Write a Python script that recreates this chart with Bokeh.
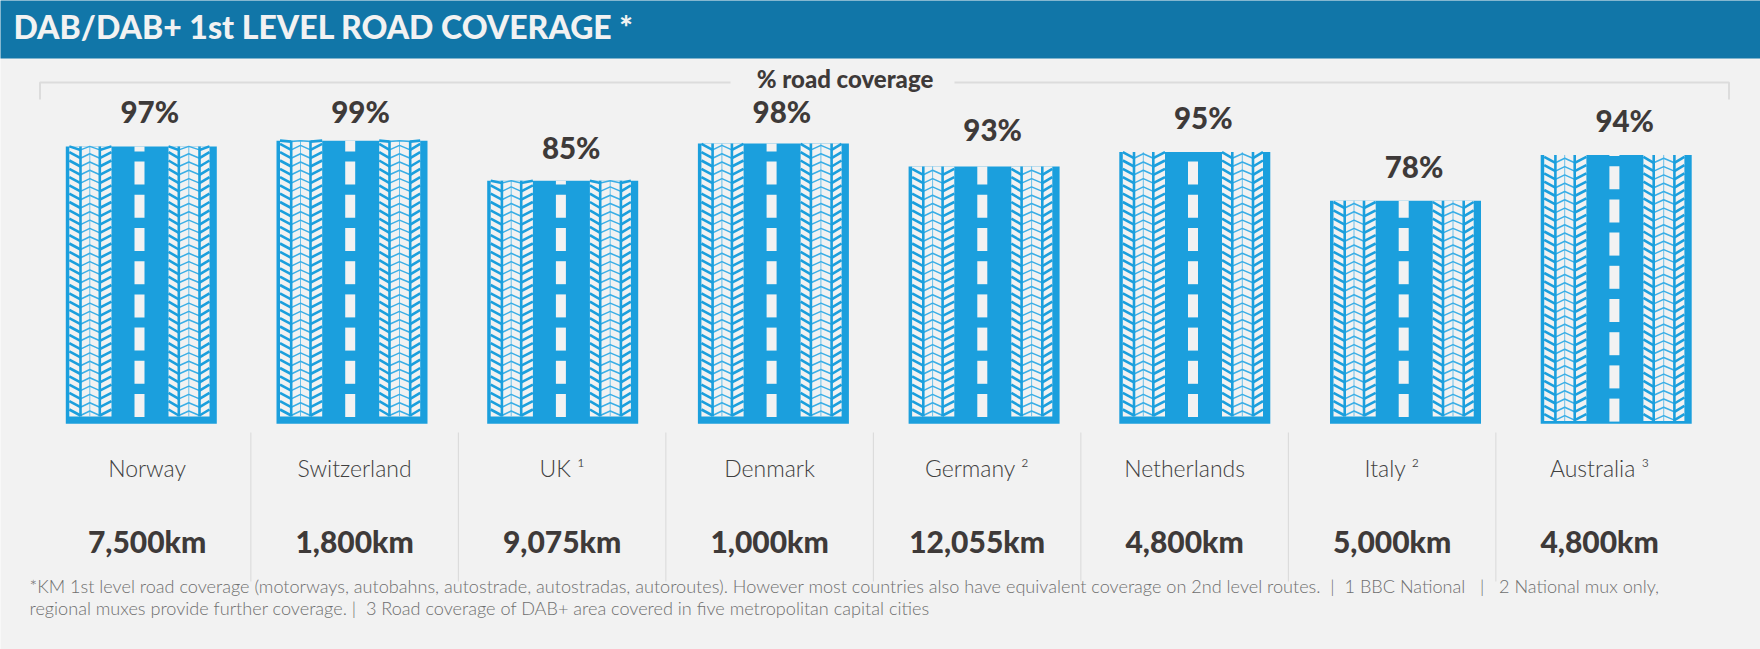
# DAB/DAB+ road coverage by country, drawn as road shaped bars
from bokeh.core.properties import value
from bokeh.embed import file_html
from bokeh.models import Range1d
from bokeh.plotting import figure
from bokeh.resources import INLINE

countries = ["Norway", "Switzerland", "UK ¹", "Denmark", "Germany ²", "Netherlands", "Italy ²", "Australia ³"]
coverage_labels = ["97%", "99%", "85%", "98%", "93%", "95%", "78%", "94%"]
# bar heights as drawn: the German bar is shorter than its 93% label
bar_values = [97, 99, 85, 98, 90, 95, 78, 94]
road_km = ["7,500km", "1,800km", "9,075km", "1,000km", "12,055km", "4,800km", "5,000km", "4,800km"]

title = "DAB/DAB+ 1st LEVEL ROAD COVERAGE *"
bracket_title = "% road coverage"
NB = "\u00a0"
footnote_1 = ("*KM 1st level road coverage (motorways, autobahns, autostrade, autostradas, autoroutes). "
              f"However most countries also have equivalent coverage on 2nd level routes.{NB}{NB}|{NB}{NB}1 BBC National"
              f"{NB}{NB}{NB}|{NB}{NB}{NB}2 National mux only,")
footnote_2 = (f"regional muxes provide further coverage.{NB}|{NB}{NB}3 Road coverage of DAB+ area covered "
              "in five metropolitan capital cities")

# layout, in page pixels
W, H = 1760, 649
BAR_STEP, BAR_X0 = 210.7, 140.8
CELL_STEP, CELL_X0 = 207.5, 146.6
PX_PER_PCT, BASE_Y = 2.86, 423.3
pct_baselines = [111, 111, 147, 111, 129, 117, 166, 120]
icon_shift = [0, 0, 0, 0, 0, 0, 0, 4.6]

BG = "#f2f2f2"
BLUE = "#1b9fdd"
HEADER = "#1176a8"
DARK = "#3e3a39"
RULE = "#dcdcdc"
HEAVY = "Lato Black"


def xp(px):
    return (px - BAR_X0) / BAR_STEP


def yp(py):
    return (BASE_Y - py) / PX_PER_PCT


def label(x, y, text, font, size, color, align="left", style="normal", **kw):
    p.text(x=x, y=y, text=text, text_font=value(font), text_font_size=size, text_color=color,
           text_font_style=style, text_align=align, text_baseline="alphabetic", **kw)


p = figure(width=W, height=H, output_backend="svg", toolbar_location=None,
           x_axis_type=None, y_axis_type=None, min_border=0,
           x_range=Range1d(xp(0), xp(W)), y_range=Range1d(yp(H), yp(0)),
           background_fill_color=BG, border_fill_color=BG, outline_line_color=None)
p.extra_x_ranges = {"cells": Range1d((0 - CELL_X0) / CELL_STEP, (W - CELL_X0) / CELL_STEP)}

# header band
p.quad(left=[xp(-3)], right=[xp(W + 3)], top=[yp(-3)], bottom=[yp(58)], fill_color=HEADER, line_color=None)
label([xp(13)], [yp(26)], [title], HEAVY, "32px", BG, style="bold")

# bracket above the bars
p.multi_line(xs=[[xp(39.5), xp(39.5), xp(730)], [xp(954), xp(1728.5), xp(1728.5)]],
             ys=[[yp(99), yp(82), yp(82)], [yp(82), yp(82), yp(99)]], line_color=RULE, line_width=2)
label([xp(844.5)], [yp(78)], [bracket_title], HEAVY, "24px", DARK, align="center", style="bold")

idx = list(range(len(countries)))
p.vbar(x=idx, top=bar_values, bottom=0, width=151 / BAR_STEP, fill_color=BLUE, line_color=None)

# tread and lane marks of each road
tread_l, tread_r, tread_t, tread_b = [], [], [], []
thick_x, thick_y, thin_x, thin_y = [], [], [], []
outer_x, outer_y, inner_x, inner_y = [], [], [], []
dash_l, dash_r, dash_t, dash_b = [], [], [], []
for i, v in enumerate(bar_values):
    left = BAR_X0 + BAR_STEP * i - 75.5
    top = BASE_Y - v * PX_PER_PCT
    tread_bottom = 416 + icon_shift[i]
    for a, b, lines in ((3.5, 45.7, (14.7, 24, 34)), (102.7, 143.7, (113, 123, 133.7))):
        tread_l.append(xp(left + a))
        tread_r.append(xp(left + b))
        tread_t.append(v)
        tread_b.append(yp(tread_bottom))
        for lx in (lines[0], lines[2]):
            thick_x.append([xp(left + lx)] * 2)
            thick_y.append([v, yp(tread_bottom)])
        thin_x.append([xp(left + lines[1])] * 2)
        thin_y.append([v, yp(tread_bottom)])
        y = tread_bottom - 3.5
        while y > top - 2:
            for end, mid in ((a, lines[0]), (b, lines[2])):
                outer_x.append([xp(left + end), xp(left + mid)])
                outer_y.append([yp(max(y - 3.5, top)), yp(max(y + 2.5, top))])
            inner_x.append([xp(left + q) for q in lines])
            inner_y.append([yp(max(y + 2.5, top)), yp(max(y - 2, top)), yp(max(y + 2.5, top))])
            y -= 8.3
    k = 0
    while True:
        d_bot = 416.5 + icon_shift[i] - 33.2 * k
        if d_bot <= top:
            break
        dash_l.append(xp(left + 68.7))
        dash_r.append(xp(left + 78.7))
        dash_b.append(yp(d_bot))
        dash_t.append(yp(max(d_bot - 23, top)))
        k += 1

p.quad(left=tread_l, right=tread_r, top=tread_t, bottom=tread_b, fill_color=BG, line_color=None)
p.multi_line(xs=thin_x, ys=thin_y, line_color="#6cc0ea", line_width=1)
p.multi_line(xs=inner_x, ys=inner_y, line_color="#3aaee6", line_width=1.5)
p.multi_line(xs=outer_x, ys=outer_y, line_color=BLUE, line_width=2.6)
p.multi_line(xs=thick_x, ys=thick_y, line_color=BLUE, line_width=2.6)
p.quad(left=dash_l, right=dash_r, top=dash_t, bottom=dash_b, fill_color=BG, line_color=None)

# percentage over each road
label(idx, [yp(b) for b in pct_baselines], coverage_labels, HEAVY, "29.5px", DARK, align="center",
      style="bold", x_offset=8.5)

# separators, country names and km rows sit on their own slightly narrower grid
p.segment(x0=[i + 0.5 for i in idx[:-1]], x1=[i + 0.5 for i in idx[:-1]],
          y0=[yp(432)] * 7, y1=[yp(581)] * 7, x_range_name="cells", line_color="#d9d9d9", line_width=1)
label(idx, [yp(467.5)] * 8, countries, "Lato Light", "23px", "#404040", align="center", x_range_name="cells")
label(idx, [yp(540)] * 8, road_km, HEAVY, "30px", DARK, align="center", style="bold", x_range_name="cells")

# footnotes
label([xp(29)] * 2, [yp(585.5), yp(607.5)], [footnote_1, footnote_2], "Lato Light", "18.1px", "#6f6f6f")

open("out.html", "w").write(file_html(p, INLINE))
